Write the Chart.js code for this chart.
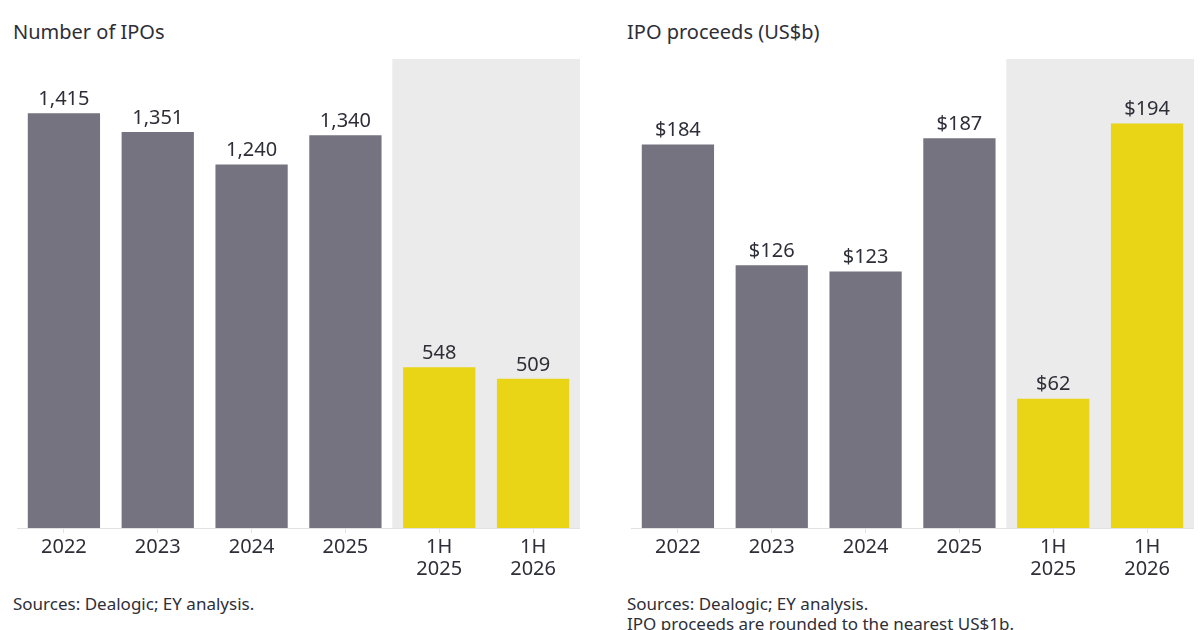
<!DOCTYPE html>
<html lang="en">
<head>
  <meta charset="UTF-8" />
  <title>IPO activity</title>
  <script src="https://cdn.jsdelivr.net/npm/chart.js"></script>
  <style>
    body {
      margin: 0;
      width: 1200px;
      height: 630px;
      background: #fff;
      font-family: "Noto Sans", sans-serif;
      color: #2e2e38;
      position: relative;
      overflow: hidden;
    }
    .title {
      position: absolute;
      top: 18px;
      font-size: 20px;
    }
    .note {
      position: absolute;
      font-size: 17px;
      line-height: 20px;
    }
    .box {
      position: absolute;
      top: 40px;
      width: 563px;
      height: 550px;
    }
  </style>
</head>
<body>
  <div class="title" style="left:13px">Number of IPOs</div>
  <div class="title" style="left:627px">IPO proceeds (US$b)</div>

  <div class="box" style="left:17px"><canvas id="countChart"></canvas></div>
  <div class="box" style="left:631px"><canvas id="proceedsChart"></canvas></div>

  <div class="note" style="left:13px; top:594px">Sources: Dealogic; EY analysis.</div>
  <div class="note" style="left:627px; top:594px">Sources: Dealogic; EY analysis.<br>IPO proceeds are rounded to the nearest US$1b.</div>

  <script>
    // data
    const periods = ['2022', '2023', '2024', '2025', ['1H', '2025'], ['1H', '2026']];
    const ipoCounts = [1415, 1351, 1240, 1340, 548, 509];
    const ipoProceeds = [184, 126, 123, 187, 62, 194];
    const halfYearFrom = 4; // first half-year column (shaded)

    const grey = '#74737f';
    const yellow = '#e9d416';
    const barColors = periods.map((p, i) => i >= halfYearFrom ? yellow : grey);

    // grey panel behind the half-year columns
    const shadePlugin = {
      id: 'shade',
      beforeDatasetsDraw(chart) {
        const { ctx, chartArea, scales } = chart;
        const step = scales.x.getPixelForValue(1) - scales.x.getPixelForValue(0);
        const left = scales.x.getPixelForValue(halfYearFrom) - step / 2;
        ctx.save();
        ctx.fillStyle = '#ebebeb';
        ctx.fillRect(left, chartArea.top, chartArea.right - left, chartArea.bottom - chartArea.top);
        ctx.restore();
      }
    };

    // value labels above the bars
    const valuePlugin = {
      id: 'values',
      afterDatasetsDraw(chart, args, opts) {
        const { ctx } = chart;
        const meta = chart.getDatasetMeta(0);
        ctx.save();
        ctx.font = '20px "Noto Sans", sans-serif';
        ctx.fillStyle = '#2e2e38';
        ctx.textAlign = 'center';
        ctx.textBaseline = 'bottom';
        meta.data.forEach((bar, i) => {
          ctx.fillText(opts.format(chart.data.datasets[0].data[i]), bar.x, bar.y - 4);
        });
        ctx.restore();
      }
    };

    function makeChart(id, values, max, format) {
      return new Chart(document.getElementById(id), {
        type: 'bar',
        data: {
          labels: periods,
          datasets: [{
            data: values,
            backgroundColor: barColors,
            categoryPercentage: 1,
            barPercentage: 0.77
          }]
        },
        options: {
          responsive: true,
          maintainAspectRatio: false,
          animation: false,
          layout: { padding: { top: 19, left: 0, right: 0, bottom: 0 } },
          plugins: {
            legend: { display: false },
            tooltip: { enabled: false },
            values: { format: format }
          },
          scales: {
            x: {
              afterFit(scale) { scale.height = 62; },
              grid: {
                display: true,
                offset: false,
                drawOnChartArea: false,
                drawTicks: true,
                tickLength: 5,
                color: '#e2e2e2'
              },
              border: { display: true, color: '#e2e2e2' },
              ticks: {
                color: '#2e2e38',
                padding: 3,
                font: { family: '"Noto Sans", sans-serif', size: 20, lineHeight: 1.1 }
              }
            },
            y: {
              display: false,
              min: 0,
              max: max
            }
          }
        },
        plugins: [shadePlugin, valuePlugin]
      });
    }

    makeChart('countChart', ipoCounts, 1600, v => v.toLocaleString('en-US'));
    makeChart('proceedsChart', ipoProceeds, 225, v => '$' + v);
  </script>
</body>
</html>
